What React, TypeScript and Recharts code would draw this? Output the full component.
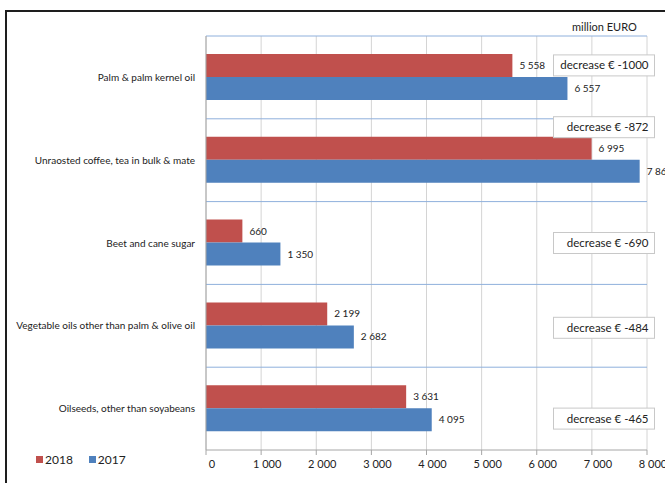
import {
  BarChart,
  Bar,
  XAxis,
  YAxis,
  CartesianGrid,
  LabelList,
  ReferenceDot,
} from "recharts";

const categories = [
  "Palm & palm kernel oil",
  "Unraosted coffee, tea in bulk & mate",
  "Beet and cane sugar",
  "Vegetable oils other than palm & olive oil",
  "Oilseeds, other than soyabeans",
];
const values2018 = [5558, 6995, 660, 2199, 3631];
const values2017 = [6557, 7867, 1350, 2682, 4095];
const notes = [
  "decrease € -1000",
  "decrease € -872",
  "decrease € -690",
  "decrease € -484",
  "decrease € -465",
];
const xTicks = [0, 1000, 2000, 3000, 4000, 5000, 6000, 7000, 8000];

const series = [
  { key: "y2018", name: "2018", color: "#c0504d" },
  { key: "y2017", name: "2017", color: "#4f81bd" },
];

// vertical nudge of each note box away from the band centre
const noteShift = [-12, -33, 0, 2, 10];

const data = categories.map((name, i) => ({
  name,
  y2018: values2018[i],
  y2017: values2017[i],
}));

const FONT = "Lato, 'Open Sans', sans-serif";
const fmt = (v: number) => String(v).replace(/\B(?=(\d{3})+(?!\d))/g, " ");

function XTick({ x, y, payload }: any) {
  return (
    <text x={x + 6} y={y} dy="0.71em" textAnchor="middle" fontSize={11} fill="#222" fontFamily={FONT}>
      {fmt(payload.value)}
    </text>
  );
}

function YTick({ x, y, payload }: any) {
  return (
    <text x={x} y={y} dy="0.35em" textAnchor="end" fontSize={10} fill="#222" fontFamily={FONT}>
      {payload.value}
    </text>
  );
}

function ValueLabel({ x, y, width, height, value }: any) {
  return (
    <text
      x={x + width + 7}
      y={y + height / 2}
      dy="0.35em"
      fontSize={10}
      fill="#222"
      fontFamily={FONT}
    >
      {fmt(Number(value))}
    </text>
  );
}

function NoteBox(text: string, shift: number) {
  return (props: any) => {
    const { cx, cy } = props;
    const w = 101;
    const h = 21;
    return (
      <g>
        <rect x={cx - w / 2} y={cy + shift - h / 2} width={w} height={h} fill="#fff" stroke="#c8c8c8" />
        <text
          x={cx + w / 2 - 6}
          y={cy + shift}
          dy="0.35em"
          textAnchor="end"
          fontSize={11.5}
          fill="#222"
          fontFamily={FONT}
        >
          {text}
        </text>
      </g>
    );
  };
}

export default function App() {
  return (
    <div style={{ position: "absolute", left: 0, top: 0, width: 665, height: 483, overflow: "hidden", background: "#fff", fontFamily: FONT }}>
      <div
        style={{
          position: "absolute",
          left: 5,
          top: 10,
          width: 720,
          height: 520,
          borderLeft: "2px solid #1e1e1e",
          borderTop: "2px solid #1e1e1e",
        }}
      />
      <div style={{ position: "absolute", left: 572, top: 20, fontSize: 11, color: "#222" }}>million EURO</div>
      <div style={{ position: "absolute", left: 36, top: 452, display: "flex", gap: 16, fontSize: 12, color: "#222" }}>
        {series.map((s) => (
          <span key={s.key} style={{ display: "flex", alignItems: "center", gap: 2 }}>
            <span style={{ width: 7, height: 7, background: s.color, display: "inline-block" }} />
            {s.name}
          </span>
        ))}
      </div>
      <div style={{ position: "absolute", left: 0, top: 0 }}>
        <BarChart
          width={665}
          height={483}
          data={data}
          layout="vertical"
          margin={{ top: 36, right: 18, bottom: 3, left: 16 }}
          barCategoryGap={18}
          barGap={0}
        >
          <CartesianGrid horizontal={false} stroke="#d4d4d4" verticalValues={xTicks} />
          <CartesianGrid
            vertical={false}
            stroke="#8fb0dc"
            horizontalCoordinatesGenerator={({ offset }: any) =>
              categories.map((_, i) => offset.top + (i * offset.height) / categories.length)
            }
          />
          <XAxis
            type="number"
            domain={[0, 8000]}
            ticks={xTicks}
            height={30}
            tickSize={5}
            tickMargin={5}
            stroke="#a6a6a6"
            tick={<XTick />}
            interval={0}
          />
          <YAxis
            type="category"
            dataKey="name"
            width={190}
            tickLine={false}
            tickSize={0}
            tickMargin={11}
            stroke="#a6a6a6"
            tick={<YTick />}
          />
          {series.map((s) => (
            <Bar key={s.key} dataKey={s.key} name={s.name} fill={s.color} isAnimationActive={false}>
              <LabelList dataKey={s.key} content={<ValueLabel />} />
            </Bar>
          ))}
          {categories.map((c, i) => (
            <ReferenceDot
              key={c}
              x={7220}
              y={c}
              r={0}
              ifOverflow="visible"
              shape={NoteBox(notes[i], noteShift[i])}
            />
          ))}
        </BarChart>
      </div>
    </div>
  );
}
